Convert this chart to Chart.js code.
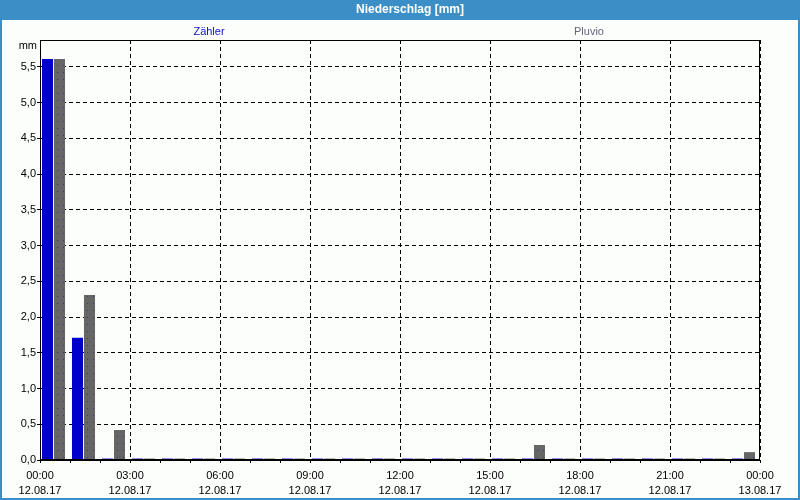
<!DOCTYPE html>
<html>
<head>
<meta charset="utf-8">
<script src="https://cdn.jsdelivr.net/npm/chart.js@4"></script>
<style>
html,body{margin:0;padding:0;background:#fff;}
#wrap{width:800px;height:500px;position:relative;}
canvas{display:block;}
</style>
</head>
<body>
<div id="wrap"><canvas id="c" width="800" height="500"></canvas></div>
<script>
// Hourly precipitation 12.08.17 00:00 - 13.08.17 00:00
const hours = [0,1,2,3,4,5,6,7,8,9,10,11,12,13,14,15,16,17,18,19,20,21,22,23];
const zaehler = [5.61,1.71,0.02,0.02,0.02,0.02,0.02,0.02,0.02,0.02,0.02,0.02,0.02,0.02,0.02,0.02,0.02,0.02,0.02,0.02,0.02,0.02,0.02,0.02];
const pluvio  = [5.61,2.31,0.42,0.02,0.02,0.02,0.02,0.02,0.02,0.02,0.02,0.02,0.02,0.02,0.02,0.02,0.21,0.02,0.02,0.02,0.02,0.02,0.02,0.11];
const timeLabels = ['00:00','03:00','06:00','09:00','12:00','15:00','18:00','21:00','00:00'];
const dateLabels = ['12.08.17','12.08.17','12.08.17','12.08.17','12.08.17','12.08.17','12.08.17','12.08.17','13.08.17'];
const seriesNames = ['Zähler','Pluvio'];
const chartTitle = 'Niederschlag [mm]';
const unitLabel = 'mm';

const FONT = 'Liberation Sans, Arial, sans-serif';

// dotted grey pattern
const pc = document.createElement('canvas');
pc.width = 6; pc.height = 7;
const pctx = pc.getContext('2d');
pctx.fillStyle = '#666666'; pctx.fillRect(0,0,6,7);
pctx.fillStyle = '#3a3a70'; pctx.fillRect(3,2,1,1);
const ctx0 = document.getElementById('c').getContext('2d');
const greyPattern = ctx0.createPattern(pc, 'repeat');

const frame = {
  id: 'frame',
  beforeDraw(chart) {
    const c = chart.ctx;
    c.save();
    c.fillStyle = '#fcfefc';
    c.fillRect(0,0,800,500);
    c.fillStyle = '#3c8fc6';
    c.fillRect(0,0,800,20);
    c.strokeStyle = '#3c8fc6';
    c.lineWidth = 2;
    c.strokeRect(1,1,798,498);
    c.fillStyle = '#ffffff';
    c.font = 'bold 12px ' + FONT;
    c.textAlign = 'center';
    c.textBaseline = 'middle';
    c.fillText(chartTitle, 410, 10);
    c.font = '11px ' + FONT;
    c.fillStyle = '#1010cc';
    c.fillText(seriesNames[0], 209, 32);
    c.fillStyle = '#666680';
    c.fillText(seriesNames[1], 589, 32);
    c.fillStyle = '#000';
    c.textAlign = 'right';
    c.fillText(unitLabel, 37, 46);
    c.restore();
  },
  afterDraw(chart) {
    const a = chart.chartArea;
    const c = chart.ctx;
    c.save();
    c.strokeStyle = '#000';
    c.lineWidth = 1;
    c.setLineDash([]);
    c.strokeRect(Math.round(a.left)+0.5, Math.round(a.top)+0.5, Math.round(a.right-a.left)-1, Math.round(a.bottom-a.top)-1);
    c.restore();
  }
};

new Chart(ctx0, {
  type: 'bar',
  data: {
    datasets: [
      { label: seriesNames[0], data: hours.map((h,i)=>({x:h+0.45, y:zaehler[i]})), backgroundColor: '#0000cc', borderWidth: 0 },
      { label: seriesNames[1], data: hours.map((h,i)=>({x:h+0.45, y:pluvio[i]})), backgroundColor: greyPattern, borderWidth: 0 }
    ]
  },
  plugins: [frame],
  options: {
    responsive: false,
    animation: false,
    events: [],
    categoryPercentage: 0.8,
    barPercentage: 0.92,
    layout: { padding: { top: 40, right: 40, left: 0, bottom: 0 } },
    plugins: { legend: { display: false }, title: { display: false }, tooltip: { enabled: false } },
    scales: {
      x: {
        type: 'linear',
        min: 0, max: 24,
        offset: false,
        afterFit(s){ s.height = 40; },
        afterBuildTicks(s){ s.ticks = hours.concat([24]).map(v=>({value:v})); },
        grid: {
          offset: false,
          color: (ctx) => (ctx.tick && ctx.tick.value % 3 === 0) ? '#000' : 'rgba(0,0,0,0)',
          tickColor: '#000',
          tickLength: 3,
          lineWidth: 1
        },
        border: { display: true, color: '#000', dash: [4,3] },
        ticks: {
          autoSkip: false,
          maxRotation: 0,
          padding: 5,
          color: '#000',
          font: { family: FONT, size: 11, lineHeight: 1.4 },
          callback: (v) => v % 3 === 0 ? [timeLabels[v/3], dateLabels[v/3]] : ''
        }
      },
      y: {
        min: 0, max: 5.877,
        afterFit(s){ s.width = 40; },
        afterBuildTicks(s){ const t=[]; for (let i=0;i<=11;i++) t.push({value:i*0.5}); s.ticks = t; },
        grid: { color: '#000', tickColor: '#000', tickLength: 3, lineWidth: 1 },
        border: { display: true, color: '#000', dash: [4,3] },
        ticks: {
          padding: 1,
          color: '#000',
          font: { family: FONT, size: 11 },
          callback: (v) => v.toFixed(1).replace('.', ',')
        }
      }
    }
  }
});
</script>
</body>
</html>
